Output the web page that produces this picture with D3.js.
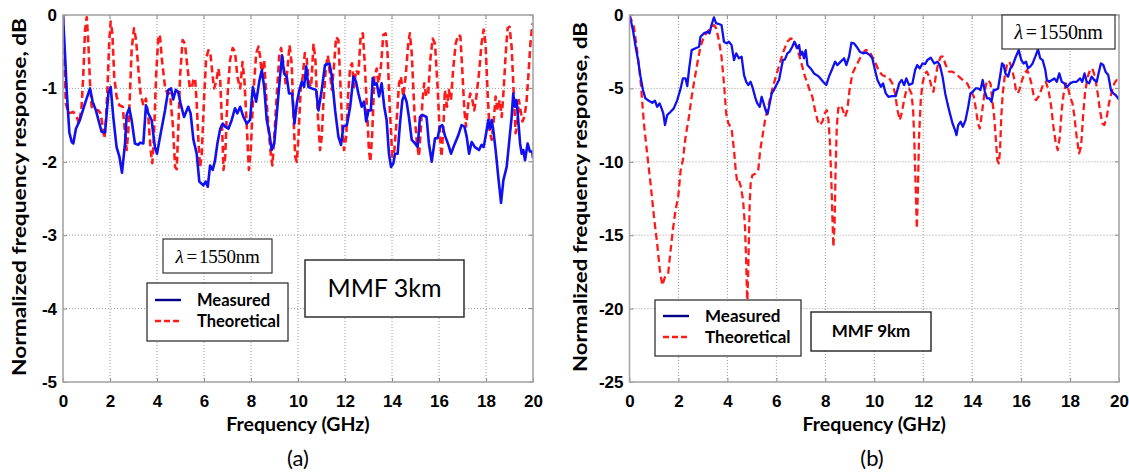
<!DOCTYPE html>
<html><head><meta charset="utf-8">
<script src="https://cdn.jsdelivr.net/npm/d3@7"></script>
<style>
html,body{margin:0;padding:0;background:#fff;}
svg{display:block;}
</style></head>
<body>
<svg id="chart" width="1129" height="472"></svg>
<script>
// ---------------- DATA ----------------
const xTicks = [0,2,4,6,8,10,12,14,16,18,20];
const yTicksA = [0,-1,-2,-3,-4,-5];
const yTicksB = [0,-5,-10,-15,-20,-25];
const legendLabels = ["Measured","Theoretical"];
const panelLetters = ["(a)","(b)"];
const fiberLabels = ["MMF 3km","MMF 9km"];
const wavelengthLabel = "1550nm";
const xTitle = "Frequency (GHz)";
const yTitle = "Normalized frequency response, dB";

// Panel (a): MMF 3 km  [frequency GHz, response dB]
const measuredA = [[0,0],[0.08,-0.5],[0.17,-1.1],[0.27,-1.6],[0.37,-1.73],[0.44,-1.75],[0.55,-1.55],[0.72,-1.43],[0.94,-1.2],[1.15,-1.0],[1.26,-1.18],[1.4,-1.3],[1.64,-1.59],[1.79,-1.6],[1.93,-1.07],[2.03,-0.98],[2.14,-1.39],[2.28,-1.8],[2.4,-1.93],[2.51,-2.15],[2.64,-1.75],[2.71,-1.36],[2.82,-1.27],[2.92,-1.43],[3.06,-1.75],[3.2,-1.77],[3.28,-1.74],[3.42,-1.75],[3.53,-1.23],[3.63,-1.34],[3.77,-1.43],[3.91,-1.8],[4.0,-1.89],[4.13,-1.66],[4.34,-1.3],[4.48,-1.02],[4.6,-1.0],[4.69,-1.15],[4.8,-1.02],[4.9,-1.05],[5.0,-1.2],[5.15,-1.39],[5.33,-1.25],[5.43,-1.34],[5.55,-1.7],[5.69,-1.89],[5.8,-2.27],[5.97,-2.32],[6.07,-2.27],[6.16,-2.34],[6.26,-2.05],[6.37,-2.11],[6.47,-1.98],[6.57,-1.75],[6.69,-1.55],[6.8,-1.48],[6.9,-1.52],[7.04,-1.55],[7.18,-1.43],[7.32,-1.27],[7.42,-1.34],[7.54,-1.25],[7.68,-1.39],[7.82,-1.48],[7.96,-1.43],[8.08,-0.98],[8.22,-1.18],[8.36,-0.89],[8.46,-0.75],[8.56,-0.98],[8.67,-1.43],[8.78,-1.61],[8.88,-1.84],[8.99,-1.75],[9.1,-1.34],[9.21,-0.93],[9.32,-0.55],[9.41,-0.8],[9.52,-0.84],[9.62,-1.07],[9.75,-1.07],[9.85,-1.48],[9.95,-1.2],[10.06,-1.02],[10.16,-0.91],[10.26,-0.98],[10.35,-0.7],[10.44,-0.98],[10.59,-1.0],[10.77,-1.02],[10.87,-1.3],[11.01,-1.02],[11.15,-0.68],[11.34,-0.66],[11.44,-0.84],[11.58,-1.3],[11.72,-1.66],[11.83,-1.77],[11.93,-1.52],[12.08,-1.5],[12.22,-1.25],[12.36,-0.84],[12.47,-0.91],[12.57,-1.07],[12.71,-1.25],[12.81,-1.18],[12.9,-1.45],[13.0,-1.3],[13.1,-1.3],[13.18,-0.86],[13.27,-0.95],[13.35,-0.93],[13.45,-1.11],[13.56,-0.93],[13.67,-1.25],[13.77,-1.43],[13.87,-1.89],[13.96,-2.07],[14.06,-2.02],[14.13,-1.89],[14.24,-1.89],[14.34,-1.48],[14.44,-1.16],[14.52,-1.09],[14.62,-1.18],[14.72,-1.39],[14.84,-1.7],[14.98,-1.75],[15.09,-1.8],[15.19,-1.39],[15.29,-1.36],[15.47,-1.39],[15.57,-1.75],[15.69,-2.0],[15.83,-1.68],[15.94,-1.68],[16.04,-1.52],[16.14,-1.5],[16.25,-1.64],[16.4,-1.77],[16.51,-1.89],[16.65,-1.77],[16.82,-1.64],[16.96,-1.5],[17.08,-1.52],[17.18,-1.66],[17.28,-1.89],[17.39,-1.73],[17.53,-1.8],[17.7,-1.84],[17.81,-1.77],[17.9,-1.8],[17.98,-1.66],[18.1,-1.43],[18.17,-1.55],[18.24,-1.43],[18.31,-1.57],[18.41,-1.84],[18.52,-2.2],[18.64,-2.56],[18.74,-2.25],[18.88,-2.07],[18.98,-1.75],[19.09,-1.39],[19.16,-1.07],[19.23,-1.25],[19.3,-1.16],[19.37,-1.43],[19.45,-1.75],[19.52,-1.89],[19.59,-1.84],[19.66,-1.98],[19.77,-1.75],[19.87,-1.86],[19.97,-1.86],[20.0,-1.95]];

const theoreticalA = [[0,0],[0.05,-0.6],[0.12,-1.2],[0.23,-1.34],[0.44,-1.32],[0.58,-1.39],[0.69,-1.48],[0.79,-1.25],[0.86,-0.84],[0.94,-0.2],[1.01,-0.03],[1.08,-0.39],[1.15,-0.93],[1.22,-1.25],[1.36,-1.3],[1.5,-1.3],[1.6,-1.34],[1.69,-1.52],[1.76,-1.68],[1.83,-1.43],[1.9,-0.93],[1.97,-0.34],[2.03,-0.09],[2.1,-0.25],[2.18,-0.84],[2.28,-1.11],[2.4,-1.23],[2.54,-1.25],[2.64,-1.61],[2.71,-1.84],[2.78,-1.57],[2.85,-1.07],[2.92,-0.48],[3.02,-0.18],[3.11,-0.34],[3.21,-0.75],[3.3,-1.07],[3.42,-1.23],[3.53,-1.14],[3.63,-1.39],[3.73,-1.84],[3.8,-2.02],[3.87,-1.66],[3.96,-0.84],[4.06,-0.27],[4.13,-0.3],[4.21,-0.61],[4.34,-0.98],[4.44,-1.07],[4.55,-1.07],[4.67,-1.48],[4.77,-2.07],[4.84,-2.1],[4.91,-1.52],[4.98,-0.84],[5.09,-0.34],[5.19,-0.39],[5.29,-0.7],[5.4,-1.0],[5.48,-0.98],[5.55,-0.89],[5.62,-0.86],[5.69,-1.2],[5.76,-1.7],[5.83,-2.07],[5.9,-1.93],[6.0,-1.16],[6.09,-0.59],[6.19,-0.48],[6.28,-0.55],[6.37,-0.84],[6.43,-1.0],[6.52,-0.91],[6.61,-0.73],[6.69,-0.89],[6.76,-1.43],[6.83,-2.11],[6.9,-1.93],[7.0,-1.11],[7.11,-0.61],[7.22,-0.45],[7.32,-0.5],[7.42,-0.84],[7.54,-1.0],[7.64,-0.64],[7.72,-0.89],[7.82,-1.52],[7.91,-2.11],[7.99,-1.84],[8.1,-1.07],[8.22,-0.52],[8.32,-0.43],[8.39,-0.57],[8.47,-0.84],[8.56,-0.61],[8.64,-1.07],[8.74,-1.52],[8.84,-1.89],[8.91,-2.05],[8.99,-1.66],[9.1,-1.07],[9.21,-0.52],[9.28,-0.45],[9.38,-0.66],[9.47,-0.93],[9.55,-0.75],[9.64,-0.41],[9.73,-0.66],[9.81,-1.39],[9.88,-1.93],[9.95,-2.0],[10.02,-1.66],[10.12,-0.98],[10.2,-0.84],[10.29,-0.52],[10.37,-0.59],[10.46,-0.93],[10.56,-0.98],[10.66,-0.39],[10.74,-0.61],[10.83,-1.3],[10.94,-1.84],[11.01,-1.66],[11.08,-1.2],[11.19,-0.7],[11.27,-0.55],[11.34,-0.75],[11.44,-1.02],[11.54,-0.66],[11.62,-0.3],[11.72,-0.34],[11.79,-0.84],[11.88,-1.52],[11.96,-1.84],[12.05,-1.66],[12.13,-1.11],[12.22,-0.7],[12.3,-0.66],[12.39,-0.98],[12.47,-0.75],[12.57,-0.8],[12.67,-0.27],[12.76,-0.25],[12.83,-0.61],[12.93,-1.25],[13.02,-1.85],[13.08,-2.0],[13.16,-1.6],[13.25,-0.84],[13.35,-0.73],[13.42,-0.93],[13.53,-0.7],[13.63,-0.27],[13.73,-0.25],[13.81,-0.52],[13.91,-1.3],[14.01,-1.93],[14.1,-1.84],[14.2,-1.43],[14.3,-0.93],[14.38,-0.84],[14.48,-1.11],[14.58,-0.84],[14.69,-0.39],[14.76,-0.25],[14.84,-0.52],[14.95,-1.3],[15.06,-1.75],[15.15,-1.93],[15.23,-1.52],[15.3,-1.16],[15.37,-0.93],[15.46,-1.11],[15.54,-1.07],[15.63,-0.61],[15.73,-0.32],[15.83,-0.39],[15.94,-0.98],[16.04,-1.66],[16.11,-1.93],[16.2,-1.43],[16.25,-1.02],[16.34,-1.25],[16.42,-1.02],[16.51,-1.16],[16.6,-0.75],[16.71,-0.39],[16.82,-0.27],[16.91,-0.29],[16.99,-0.75],[17.08,-1.3],[17.15,-1.52],[17.25,-1.2],[17.33,-1.07],[17.42,-1.16],[17.5,-1.3],[17.59,-1.11],[17.7,-0.8],[17.81,-0.39],[17.9,-0.2],[17.98,-0.39],[18.07,-1.07],[18.15,-1.57],[18.24,-1.7],[18.33,-1.43],[18.41,-1.11],[18.5,-1.3],[18.58,-1.16],[18.67,-1.39],[18.75,-1.02],[18.84,-0.52],[18.92,-0.18],[19.0,-0.16],[19.09,-0.43],[19.18,-1.07],[19.26,-1.61],[19.32,-1.52],[19.4,-1.16],[19.47,-1.3],[19.55,-1.45],[19.63,-1.39],[19.72,-1.2],[19.8,-0.84],[19.89,-0.39],[19.97,-0.14],[20.0,-0.11]];

// Panel (b): MMF 9 km
const measuredB = [[0,0],[0.14,-1.02],[0.25,-2.16],[0.35,-3.07],[0.45,-4.2],[0.55,-5.11],[0.65,-5.68],[0.79,-5.84],[0.93,-5.98],[1.04,-5.84],[1.13,-6.25],[1.23,-6.02],[1.31,-6.36],[1.38,-6.7],[1.45,-7.5],[1.54,-6.82],[1.68,-6.59],[1.81,-6.36],[1.95,-5.8],[2.09,-5.0],[2.18,-4.32],[2.29,-4.32],[2.36,-4.84],[2.43,-3.75],[2.54,-2.39],[2.7,-2.27],[2.84,-2.16],[2.9,-1.48],[3.04,-1.25],[3.18,-1.14],[3.27,-1.25],[3.35,-0.68],[3.45,-0.16],[3.54,-0.57],[3.65,-0.61],[3.76,-0.68],[3.86,-1.82],[3.97,-1.93],[4.06,-1.82],[4.17,-2.05],[4.27,-3.07],[4.36,-2.61],[4.47,-2.95],[4.58,-2.84],[4.68,-4.09],[4.77,-4.55],[4.85,-4.77],[4.95,-4.55],[5.04,-5.0],[5.13,-5.57],[5.22,-6.02],[5.32,-6.25],[5.4,-5.57],[5.48,-6.02],[5.56,-6.48],[5.64,-6.75],[5.73,-6.02],[5.81,-5.34],[5.9,-5.11],[6.0,-4.77],[6.11,-4.43],[6.2,-3.64],[6.27,-3.07],[6.35,-3.02],[6.45,-2.61],[6.54,-2.5],[6.65,-2.16],[6.74,-1.82],[6.86,-2.27],[6.93,-2.05],[6.99,-2.73],[7.06,-2.5],[7.13,-2.95],[7.2,-2.39],[7.27,-3.41],[7.4,-3.64],[7.54,-3.98],[7.74,-4.2],[7.91,-4.55],[8.04,-4.77],[8.15,-4.2],[8.29,-3.64],[8.4,-3.18],[8.49,-3.41],[8.63,-3.18],[8.77,-2.95],[8.86,-3.41],[8.97,-2.84],[9.07,-1.89],[9.17,-1.93],[9.28,-2.16],[9.41,-2.5],[9.54,-2.61],[9.68,-2.57],[9.82,-2.73],[9.92,-2.95],[10.03,-3.75],[10.13,-4.43],[10.27,-4.89],[10.36,-4.66],[10.47,-5.34],[10.58,-5.57],[10.72,-5.52],[10.88,-5.52],[11.02,-4.66],[11.12,-4.43],[11.22,-4.77],[11.31,-4.32],[11.42,-4.77],[11.56,-4.66],[11.67,-3.75],[11.76,-3.41],[11.86,-3.64],[11.97,-3.3],[12.08,-3.34],[12.17,-3.07],[12.31,-2.91],[12.45,-3.3],[12.58,-3.18],[12.68,-3.41],[12.79,-4.2],[12.9,-5.34],[12.99,-6.02],[13.09,-6.7],[13.2,-7.39],[13.3,-7.84],[13.36,-8.18],[13.43,-7.5],[13.53,-7.27],[13.62,-7.61],[13.73,-7.16],[13.84,-6.25],[13.93,-5.34],[14.03,-5.23],[14.14,-5.0],[14.24,-5.0],[14.34,-5.11],[14.43,-4.43],[14.52,-5.23],[14.61,-5.68],[14.71,-5.68],[14.79,-5.91],[14.88,-5.11],[14.95,-5.11],[15.06,-5.0],[15.15,-4.09],[15.22,-3.3],[15.29,-3.41],[15.36,-3.98],[15.47,-4.2],[15.56,-3.64],[15.66,-3.41],[15.76,-2.95],[15.9,-2.39],[16.01,-3.07],[16.1,-3.3],[16.2,-3.18],[16.28,-3.64],[16.37,-3.52],[16.47,-3.3],[16.58,-2.84],[16.69,-2.34],[16.78,-2.95],[16.88,-3.07],[16.99,-3.75],[17.05,-4.43],[17.15,-4.55],[17.26,-4.43],[17.36,-4.32],[17.46,-4.55],[17.56,-3.98],[17.66,-4.55],[17.77,-4.66],[17.87,-4.93],[18.0,-4.66],[18.14,-4.55],[18.27,-4.55],[18.41,-4.32],[18.5,-4.55],[18.59,-3.98],[18.68,-4.55],[18.78,-4.66],[18.88,-4.2],[18.99,-4.43],[19.09,-4.55],[19.18,-3.86],[19.26,-3.3],[19.36,-3.41],[19.45,-3.86],[19.56,-4.09],[19.67,-5.11],[19.77,-5.34],[19.86,-5.45],[19.97,-5.68],[20.0,-5.8]];

const theoreticalB = [[0,0],[0.18,-0.8],[0.31,-2.39],[0.45,-4.43],[0.59,-7.39],[0.72,-9.43],[0.86,-11.48],[1.0,-13.75],[1.13,-15.57],[1.24,-17.39],[1.34,-18.41],[1.45,-17.84],[1.58,-17.61],[1.68,-16.02],[1.77,-14.66],[1.88,-13.3],[1.99,-12.39],[2.09,-10.57],[2.18,-9.89],[2.29,-8.3],[2.43,-6.93],[2.54,-5.57],[2.63,-4.66],[2.77,-3.3],[2.9,-2.16],[3.04,-1.48],[3.18,-1.14],[3.31,-0.91],[3.45,-0.68],[3.54,-0.91],[3.65,-1.7],[3.76,-2.84],[3.86,-4.66],[3.95,-6.7],[4.04,-7.39],[4.17,-7.73],[4.27,-9.2],[4.34,-10.57],[4.4,-11.36],[4.47,-11.25],[4.55,-11.7],[4.64,-12.61],[4.72,-14.43],[4.77,-16.93],[4.81,-19.8],[4.85,-17.5],[4.91,-12.84],[4.95,-11.48],[5.02,-10.91],[5.15,-10.8],[5.26,-10.57],[5.34,-9.2],[5.43,-8.3],[5.54,-7.16],[5.63,-6.48],[5.73,-5.8],[5.84,-5.0],[5.94,-4.43],[6.04,-3.86],[6.18,-3.07],[6.31,-2.39],[6.45,-1.82],[6.58,-1.59],[6.72,-1.7],[6.86,-2.39],[6.95,-2.84],[7.06,-3.52],[7.17,-4.2],[7.27,-4.66],[7.36,-5.11],[7.47,-5.57],[7.58,-6.48],[7.68,-7.16],[7.77,-7.5],[7.88,-7.27],[7.98,-6.7],[8.06,-6.48],[8.13,-7.16],[8.19,-8.75],[8.25,-11.48],[8.29,-13.75],[8.33,-15.8],[8.38,-14.2],[8.42,-10.57],[8.47,-7.61],[8.53,-6.36],[8.63,-6.14],[8.72,-6.48],[8.81,-6.93],[8.9,-6.48],[8.99,-5.11],[9.11,-3.98],[9.24,-3.52],[9.38,-3.07],[9.52,-2.61],[9.65,-2.39],[9.79,-2.43],[9.92,-2.84],[10.06,-3.3],[10.2,-3.86],[10.33,-4.09],[10.47,-4.2],[10.61,-4.32],[10.74,-4.66],[10.85,-5.34],[10.95,-6.48],[11.04,-7.16],[11.12,-6.7],[11.22,-5.8],[11.31,-5.11],[11.42,-5.0],[11.52,-5.34],[11.59,-6.48],[11.64,-8.75],[11.7,-12.16],[11.74,-14.55],[11.78,-12.16],[11.83,-8.3],[11.9,-5.8],[11.97,-4.66],[12.07,-3.98],[12.15,-3.86],[12.24,-4.2],[12.34,-4.89],[12.42,-5.23],[12.51,-4.2],[12.61,-3.3],[12.72,-2.84],[12.81,-2.84],[12.92,-3.41],[13.06,-3.86],[13.19,-3.86],[13.32,-3.98],[13.46,-4.2],[13.62,-4.43],[13.8,-4.66],[13.93,-5.11],[14.07,-5.57],[14.16,-6.48],[14.24,-7.39],[14.31,-7.73],[14.38,-6.93],[14.45,-6.02],[14.52,-5.11],[14.58,-4.66],[14.65,-4.43],[14.75,-4.66],[14.81,-5.57],[14.9,-6.93],[14.98,-8.75],[15.03,-9.89],[15.09,-10.11],[15.14,-9.2],[15.19,-6.93],[15.25,-5.34],[15.33,-4.2],[15.42,-3.41],[15.52,-3.18],[15.6,-3.52],[15.7,-4.2],[15.79,-5.11],[15.87,-5.34],[15.95,-5.0],[16.04,-4.43],[16.14,-3.98],[16.25,-3.75],[16.33,-4.09],[16.42,-4.66],[16.51,-5.45],[16.61,-5.8],[16.71,-5.57],[16.82,-5.11],[16.92,-4.66],[17.01,-4.55],[17.12,-5.11],[17.23,-6.25],[17.32,-7.61],[17.42,-8.75],[17.5,-9.2],[17.58,-8.3],[17.66,-6.48],[17.74,-5.34],[17.83,-4.66],[17.91,-4.89],[18.0,-5.57],[18.1,-6.02],[18.18,-6.93],[18.27,-8.3],[18.37,-9.43],[18.45,-8.98],[18.53,-6.93],[18.61,-5.34],[18.72,-4.2],[18.82,-3.75],[18.91,-3.64],[19.02,-4.2],[19.13,-5.34],[19.22,-6.48],[19.32,-7.39],[19.4,-7.5],[19.5,-6.93],[19.59,-6.02],[19.7,-5.23],[19.81,-4.66],[19.9,-4.43],[20.0,-4.43]];

// ---------------- DRAW ----------------
const svg = d3.select("#chart");
svg.append("rect").attr("width",1129).attr("height",472).attr("fill","#fff");

const TICK_FONT = "'Liberation Sans Narrow','Arial Narrow','Liberation Sans',sans-serif";
const LABEL_FONT = "Lato, 'Open Sans', sans-serif";
const fmtTick = d => String(d);   // plain hyphen-minus like the original

const panels = [
  {id:"a", left:63, right:533, top:15, bottom:382, yDomain:[-5,0], yTicks:yTicksA,
   measured:measuredA, theoretical:theoreticalA, lw:2.6, ylabX:19, ylabLen:358, letterX:298,
   lambdaBox:[163,239,109,34], lambdaSize:19,
   legendBox:[147,283,141,58], legendFont:16.5, legendLineY:[300,321],
   fiberBox:[305,260,159,57], fiberFont:25, fiberBold:false, fiber:fiberLabels[0], letter:panelLetters[0]},
  {id:"b", left:629.5, right:1119, top:15, bottom:382, yDomain:[-25,0], yTicks:yTicksB,
   measured:measuredB, theoretical:theoreticalB, lw:2.3, ylabX:580, ylabLen:350, letterX:872,
   lambdaBox:[1002,15,113,34], lambdaSize:20,
   legendBox:[655,300,146,56], legendFont:17, legendLineY:[316,337],
   fiberBox:[811,312,120,39], fiberFont:17, fiberBold:true, fiber:fiberLabels[1], letter:panelLetters[1]}
];

panels.forEach(p => {
  const x = d3.scaleLinear().domain([0,20]).range([p.left,p.right]);
  const y = d3.scaleLinear().domain(p.yDomain).range([p.bottom,p.top]);
  const g = svg.append("g");

  // grid
  const grid = g.append("g");
  grid.selectAll("line.vx").data(xTicks.slice(1,-1)).join("line")
    .attr("x1",d=>x(d)).attr("x2",d=>x(d)).attr("y1",p.top).attr("y2",p.bottom)
    .attr("stroke","#9a9a9a").attr("stroke-width",1).attr("stroke-dasharray","1,2");
  grid.selectAll("line.hy").data(p.yTicks.slice(1,-1)).join("line")
    .attr("x1",p.left).attr("x2",p.right).attr("y1",d=>y(d)).attr("y2",d=>y(d))
    .attr("stroke","#9a9a9a").attr("stroke-width",1).attr("stroke-dasharray","1,2");

  // axes via d3 (inner ticks)
  const xAxis = d3.axisBottom(x).tickValues(xTicks).tickSize(-4).tickPadding(10).tickFormat(fmtTick);
  const ax = g.append("g").attr("transform",`translate(0,${p.bottom})`).call(xAxis);
  ax.attr("font-family",null).attr("font-size",null);
  ax.select(".domain").remove();
  ax.selectAll(".tick line").attr("stroke","#888");
  ax.selectAll(".tick text").attr("dy","0.9em")
    .style("font-family",TICK_FONT).style("font-weight","bold").style("font-size","17px").style("fill","#000");
  const yAxis = d3.axisLeft(y).tickValues(p.yTicks).tickSize(-4).tickPadding(6).tickFormat(fmtTick);
  const ay = g.append("g").attr("transform",`translate(${p.left},0)`).call(yAxis);
  ay.attr("font-family",null).attr("font-size",null);
  ay.select(".domain").remove();
  ay.selectAll(".tick line").attr("stroke","#888");
  ay.selectAll(".tick text")
    .style("font-family",TICK_FONT).style("font-weight","bold").style("font-size","17px").style("fill","#000");
  // right/top inner ticks
  g.append("g").selectAll("line").data(p.yTicks).join("line")
    .attr("x1",p.right).attr("x2",p.right-4).attr("y1",d=>y(d)).attr("y2",d=>y(d)).attr("stroke","#888");
  g.append("g").selectAll("line").data(xTicks).join("line")
    .attr("x1",d=>x(d)).attr("x2",d=>x(d)).attr("y1",p.top).attr("y2",p.top+4).attr("stroke","#888");

  // clip
  svg.append("clipPath").attr("id","clip"+p.id).append("rect")
    .attr("x",p.left).attr("y",p.top-2).attr("width",p.right-p.left).attr("height",p.bottom-p.top+2);

  const line = d3.line().x(d=>x(d[0])).y(d=>y(d[1]));
  const lines = g.append("g").attr("clip-path",`url(#clip${p.id})`);
  lines.append("path").datum(p.theoretical).attr("d",line).attr("fill","none")
    .attr("stroke","#ff1a1a").attr("stroke-width",p.lw).attr("stroke-dasharray","7,4").attr("stroke-linejoin","round");
  lines.append("path").datum(p.measured).attr("d",line).attr("fill","none")
    .attr("stroke","#1010f0").attr("stroke-width",p.lw).attr("stroke-linejoin","round");

  // frame
  g.append("rect").attr("x",p.left).attr("y",p.top).attr("width",p.right-p.left).attr("height",p.bottom-p.top)
    .attr("fill","none").attr("stroke","#a6a6a6").attr("stroke-width",1.6);

  // axis titles
  g.append("text").attr("x",(p.left+p.right)/2).attr("y",431).attr("text-anchor","middle")
    .attr("font-family",LABEL_FONT).attr("font-weight","bold").attr("font-size",19.5)
    .text(xTitle);
  g.append("text").attr("transform",`translate(${p.ylabX},197) rotate(-90)`).attr("text-anchor","middle")
    .attr("dy","0.35em")
    .attr("font-family",LABEL_FONT).attr("font-weight","bold").attr("font-size",19.5)
    .attr("textLength",p.ylabLen).attr("lengthAdjust","spacingAndGlyphs")
    .text(yTitle);
  g.append("text").attr("x",p.letterX).attr("y",466).attr("text-anchor","middle")
    .attr("font-family",LABEL_FONT).attr("font-size",22)
    .text(p.letter);

  // lambda box
  const lb = p.lambdaBox;
  g.append("rect").attr("x",lb[0]).attr("y",lb[1]).attr("width",lb[2]).attr("height",lb[3])
    .attr("fill","#fff").attr("stroke","#333").attr("stroke-width",1.2);
  const lt = g.append("text").attr("x",lb[0]+lb[2]/2).attr("y",lb[1]+lb[3]/2).attr("dy","0.35em")
    .attr("text-anchor","middle").attr("font-family","'Liberation Serif','Times New Roman',serif")
    .attr("font-size",p.lambdaSize).attr("letter-spacing","-0.3");
  lt.append("tspan").attr("font-style","italic").text("λ");
  lt.append("tspan").attr("dx",3).text("=");
  lt.append("tspan").attr("dx",2).text(wavelengthLabel);

  // legend
  const lg = p.legendBox;
  g.append("rect").attr("x",lg[0]).attr("y",lg[1]).attr("width",lg[2]).attr("height",lg[3])
    .attr("fill","#fff").attr("stroke","#222").attr("stroke-width",1.2);
  const styles = [{c:"#000088",dash:null},{c:"#ff1a1a",dash:"6,3"}];
  legendLabels.forEach((lab,i) => {
    const ly = p.legendLineY[i];
    g.append("line").attr("x1",lg[0]+8).attr("x2",lg[0]+34).attr("y1",ly).attr("y2",ly)
      .attr("stroke",styles[i].c).attr("stroke-width",2.4).attr("stroke-dasharray",styles[i].dash);
    g.append("text").attr("x",lg[0]+50).attr("y",ly).attr("dy","0.35em")
      .attr("font-family",LABEL_FONT).attr("font-weight","bold").attr("font-size",p.legendFont)
      .text(lab);
  });

  // fiber box
  const fb = p.fiberBox;
  g.append("rect").attr("x",fb[0]).attr("y",fb[1]).attr("width",fb[2]).attr("height",fb[3])
    .attr("fill","#fff").attr("stroke","#222").attr("stroke-width",1.4);
  g.append("text").attr("x",fb[0]+fb[2]/2).attr("y",fb[1]+fb[3]/2).attr("dy","0.35em").attr("text-anchor","middle")
    .attr("font-family",LABEL_FONT).attr("font-weight",p.fiberBold?"bold":"normal")
    .attr("font-size",p.fiberFont).text(p.fiber);
});
</script>
</body></html>
